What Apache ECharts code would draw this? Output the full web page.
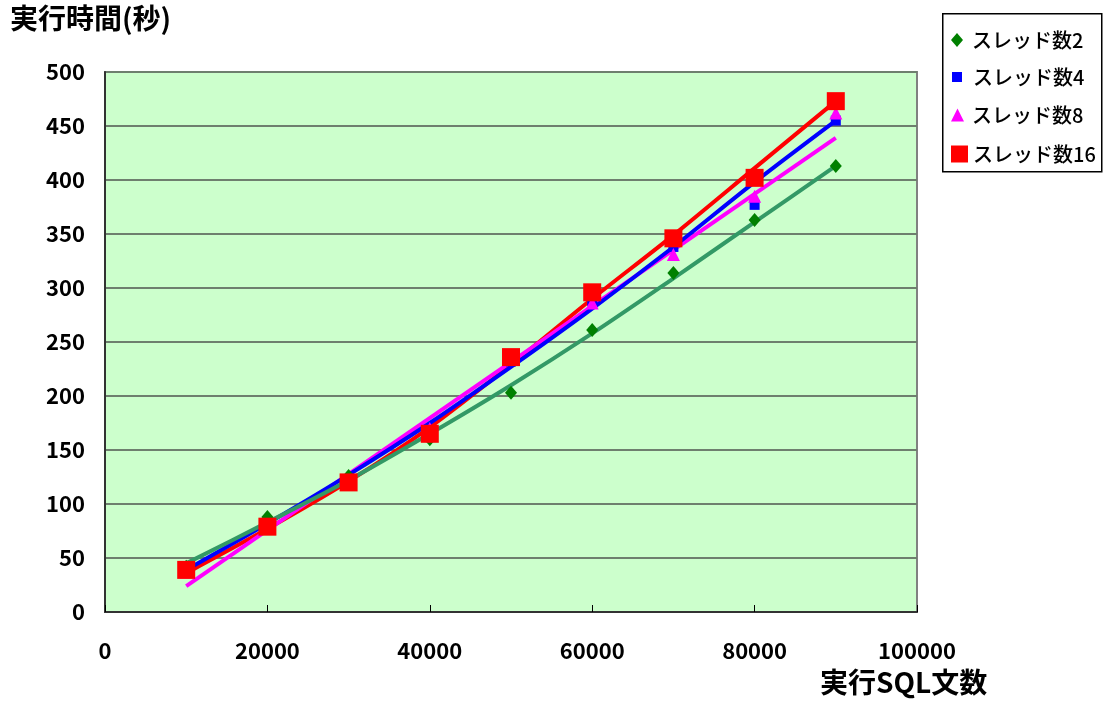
<!DOCTYPE html>
<html>
<head>
<meta charset="utf-8">
<script src="https://cdn.jsdelivr.net/npm/echarts@6/dist/echarts.min.js"></script>
<style>
  html, body { margin: 0; padding: 0; background: #ffffff; }
  #chart { width: 1103px; height: 705px; }
</style>
</head>
<body>
<div id="chart"></div>
<script>
// Number of executed SQL statements (x)
const sqlCounts = [10000, 20000, 30000, 40000, 50000, 60000, 70000, 80000, 90000];

// Measured execution time (seconds) per thread count
const threads2  = [42, 88, 126, 160, 203, 261, 314, 363, 413];
const threads4  = [38, 80, 122, 167, 232, 288, 338, 377, 455];
const threads8  = [37, 79, 121, 170, 238, 286, 331, 385, 462];
const threads16 = [39, 79, 120, 165, 236, 296, 346, 402, 473];

// Trend lines (seconds) at the same x positions
const trend2  = [45, 83, 122, 165, 210, 258, 309, 361, 413];
const trend4  = [39, 82, 127, 175, 227, 281, 338, 398, 455];
const trend16 = [36, 77, 121, 171, 229, 290, 349, 411, 473];
// Linear trend for 8 threads: values at the first and last x
const trend8X = [10000, 90000];
const trend8  = [24, 439];

const seriesNames = ['スレッド数2', 'スレッド数4', 'スレッド数8', 'スレッド数16'];
const yTicks = { min: 0, max: 500, interval: 50 };
const xTicks = { min: 0, max: 100000, interval: 20000 };

const FONT = '"Noto Sans CJK JP", "Noto Sans", sans-serif';

function pairs(xs, ys) { return xs.map((x, i) => [x, ys[i]]); }

const chart = echarts.init(document.getElementById('chart'), null, { renderer: 'canvas' });

function legendItem(name, top, left, w, h, extraPad) {
  return {
    data: [name],
    orient: 'vertical',
    left: left,
    top: top,
    padding: 0,
    itemWidth: w,
    itemHeight: h,
    selectedMode: false,
    textStyle: { fontFamily: FONT, fontSize: 20, fontWeight: 500, color: '#000', padding: [0, 0, 0, extraPad] }
  };
}

chart.setOption({
  backgroundColor: '#ffffff',
  animation: false,
  textStyle: { fontFamily: FONT },
  title: [
    { text: '実行時間(秒)', left: 10, top: 4, padding: 0,
      textStyle: { fontFamily: FONT, fontSize: 28, fontWeight: 'bold', color: '#000' } },
    { text: '実行SQL文数', left: 820, top: 668, padding: 0,
      textStyle: { fontFamily: FONT, fontSize: 28, fontWeight: 'bold', color: '#000' } }
  ],
  graphic: [{
    type: 'rect', left: 942, top: 13, z: 0,
    shape: { width: 159, height: 158 },
    style: { fill: '#ffffff', stroke: '#000000', lineWidth: 1.5 }
  }],
  legend: [
    legendItem(seriesNames[0], 30, 951, 12, 14, 4),
    legendItem(seriesNames[1], 67, 952, 10, 10, 6),
    legendItem(seriesNames[2], 105, 951, 13, 13, 3),
    legendItem(seriesNames[3], 144, 951, 17, 17, 0)
  ],
  grid: {
    left: 105, right: 186, top: 72, bottom: 93,
    show: true, backgroundColor: '#CCFFCC',
    borderColor: '#808080', borderWidth: 2
  },
  xAxis: {
    type: 'value',
    min: xTicks.min, max: xTicks.max, interval: xTicks.interval,
    splitLine: { show: false },
    axisLine: { show: true, onZero: false, lineStyle: { color: '#333', width: 2 } },
    axisTick: { show: true, inside: true, length: 7, lineStyle: { color: '#000', width: 1 } },
    axisLabel: { margin: 28, fontFamily: FONT, fontSize: 22, fontWeight: 'bold', color: '#000',
      formatter: v => String(v) }
  },
  yAxis: {
    type: 'value',
    min: yTicks.min, max: yTicks.max, interval: yTicks.interval,
    splitLine: { show: true, lineStyle: { color: '#6e7f6e', width: 2 } },
    axisLine: { show: true, onZero: false, lineStyle: { color: '#333', width: 2 } },
    axisTick: { show: false },
    axisLabel: { margin: 20, fontFamily: FONT, fontSize: 22, fontWeight: 'bold', color: '#000',
      formatter: v => String(v) }
  },
  series: [
    { type: 'line', name: 't16', data: pairs(sqlCounts, trend16), smooth: 0.3, showSymbol: false, z: 2,
      lineStyle: { color: '#FF0000', width: 4 }, itemStyle: { color: '#FF0000' } },
    { type: 'line', name: 't8', data: pairs(trend8X, trend8), showSymbol: false, z: 2,
      lineStyle: { color: '#FF00FF', width: 4 }, itemStyle: { color: '#FF00FF' } },
    { type: 'line', name: 't4', data: pairs(sqlCounts, trend4), smooth: 0.3, showSymbol: false, z: 2,
      lineStyle: { color: '#0000FF', width: 4 }, itemStyle: { color: '#0000FF' } },
    { type: 'line', name: 't2', data: pairs(sqlCounts, trend2), smooth: 0.3, showSymbol: false, z: 2,
      lineStyle: { color: '#339966', width: 4 }, itemStyle: { color: '#339966' } },
    { type: 'scatter', name: seriesNames[0], data: pairs(sqlCounts, threads2), z: 3,
      symbol: 'diamond', symbolSize: [12, 14], itemStyle: { color: '#008000', opacity: 1 } },
    { type: 'scatter', name: seriesNames[1], data: pairs(sqlCounts, threads4), z: 3,
      symbol: 'rect', symbolSize: 10, itemStyle: { color: '#0000FF', opacity: 1 } },
    { type: 'scatter', name: seriesNames[2], data: pairs(sqlCounts, threads8), z: 3,
      symbol: 'triangle', symbolSize: 13, itemStyle: { color: '#FF00FF', opacity: 1 } },
    { type: 'scatter', name: seriesNames[3], data: pairs(sqlCounts, threads16), z: 3,
      symbol: 'rect', symbolSize: 18, itemStyle: { color: '#FF0000', opacity: 1 } }
  ]
});
</script>
</body>
</html>
